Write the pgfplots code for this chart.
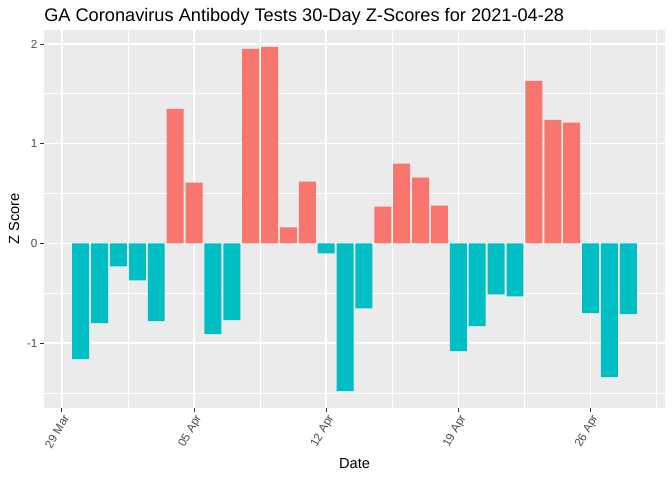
\documentclass[border=0pt]{standalone}
\usepackage{pgfplots}
\pgfplotsset{compat=1.18}
\usepackage{fontspec}
\setmainfont{Liberation Sans}
\definecolor{panelbg}{HTML}{EBEBEB}
\definecolor{posred}{HTML}{F8766D}
\definecolor{negteal}{HTML}{00BFC4}
\definecolor{tickgrey}{HTML}{4D4D4D}
\definecolor{tickline}{HTML}{333333}
\begin{document}
\begin{tikzpicture}
\useasboundingbox (0,0) rectangle (504bp,360bp);
\begin{axis}[
  at={(33bp,54bp)}, anchor=south west,
  scale only axis, width=465.75bp, height=283.5bp,
  xmin=-0.945, xmax=31.945, ymin=-1.65, ymax=2.14,
  axis background/.style={fill=panelbg},
  axis line style={draw=none},
  xtick={0,7,14,21,28},
  xticklabels={29 Mar,05 Apr,12 Apr,19 Apr,26 Apr},
  minor xtick={3.5,10.5,17.5,24.5,31.5},
  ytick={-1,0,1,2},
  yticklabels={-1,0,1,2},
  minor ytick={-1.5,-0.5,0.5,1.5},
  grid=both,
  major grid style={white, line width=1.07pt},
  minor grid style={white, line width=0.53pt},
  tick pos=left, tick align=outside,
  major tick length=2.75pt, minor tick length=0pt,
  tick style={tickline, line width=0.53pt},
  /pgf/number format/assume math mode=true,
  xticklabel style={font=\fontsize{8.8pt}{10pt}\selectfont, text=tickgrey, rotate=60, anchor=north east, inner sep=1pt},
  yticklabel style={font=\fontsize{8.8pt}{10pt}\selectfont, text=tickgrey, anchor=east, inner sep=2pt},
  ybar, bar width=0.9, bar shift=0pt,
  clip=false,
]
\addplot[fill=posred, draw=none] coordinates {
 (6,1.35) (7,0.61) (10,1.95) (11,1.97) (12,0.16) (13,0.62)
 (17,0.37) (18,0.80) (19,0.66) (20,0.38)
 (25,1.63) (26,1.24) (27,1.21)
};
\addplot[fill=negteal, draw=none] coordinates {
 (1,-1.16) (2,-0.80) (3,-0.23) (4,-0.37) (5,-0.78)
 (8,-0.91) (9,-0.77) (14,-0.10) (15,-1.48) (16,-0.65)
 (21,-1.08) (22,-0.83) (23,-0.51) (24,-0.53)
 (28,-0.70) (29,-1.34) (30,-0.71)
};
\end{axis}
\node[anchor=base west, inner sep=0pt, font=\fontsize{13.7pt}{15pt}\selectfont] at (33bp,343.5bp) {GA Coronavirus Antibody Tests 30-Day Z-Scores for 2021-04-28};
\node[anchor=center, inner sep=0pt, font=\fontsize{11pt}{13pt}\selectfont] at (265.9bp,12bp) {Date};
\node[anchor=center, inner sep=0pt, rotate=90, font=\fontsize{11pt}{13pt}\selectfont] at (10.5bp,195.75bp) {Z Score};
\end{tikzpicture}
\end{document}
